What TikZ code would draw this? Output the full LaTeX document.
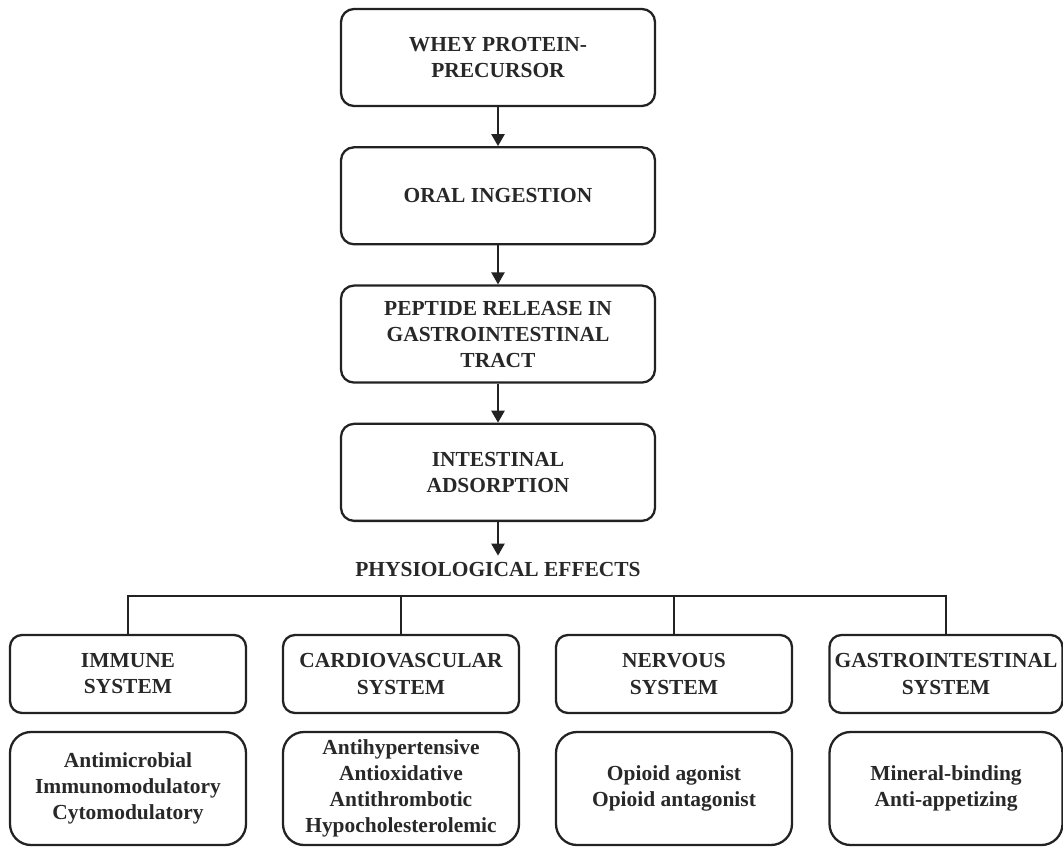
\documentclass[tikz,border=0pt]{standalone}
\usepackage{fontspec}
\setmainfont{Liberation Serif}
\usepackage{xcolor}
\definecolor{grisLinea}{RGB}{34,34,34}
\definecolor{grisTexto}{RGB}{40,40,40}
\usepackage{tikz}
\usetikzlibrary{arrows.meta, positioning}

\begin{document}
\begin{tikzpicture}[
  caja/.style={draw=grisLinea, line width=1.3pt, rounded corners=0.26cm, align=center,
    minimum width=6.28cm, minimum height=1.94cm, inner sep=2pt, text=grisTexto,
    font=\fontsize{12.2}{14.8}\selectfont\bfseries},
  sistema/.style={caja, minimum width=4.72cm, minimum height=1.56cm, rounded corners=0.24cm},
  efecto/.style={caja, minimum width=4.72cm, minimum height=2.26cm, rounded corners=0.42cm},
  flecha/.style={draw=grisLinea, line width=1.3pt, -{Triangle[width=0.26cm,length=0.24cm]}},
  linea/.style={draw=grisLinea, line width=1.3pt},
  node distance=0.78cm
]
  % Marco
  \path[fill=white, use as bounding box] (0,0) rectangle (21.26,-16.94);
  % Cadena central
  \node[caja] (whey) at (9.96,-1.15) {WHEY PROTEIN-\\PRECURSOR};
  \node[caja, below=of whey] (oral) {ORAL INGESTION};
  \node[caja, below=of oral] (pept) {PEPTIDE RELEASE IN\\GASTROINTESTINAL\\TRACT};
  \node[caja, below=of pept] (intest) {INTESTINAL\\ADSORPTION};
  \node[text=grisTexto, font=\fontsize{12.2}{14.8}\selectfont\bfseries, inner sep=0pt,
    minimum height=0.56cm] (efectos) at (9.96,-11.40) {PHYSIOLOGICAL EFFECTS};
  \foreach \a/\b in {whey/oral, oral/pept, pept/intest, intest/efectos}
    \draw[flecha] (\a) -- (\b);
  % Sistemas
  \node[sistema] (inmune) at (2.56,-13.48) {IMMUNE\\SYSTEM};
  \node[sistema] (cardio) at (8.02,-13.48) {CARDIOVASCULAR\\SYSTEM};
  \node[sistema] (nervioso) at (13.48,-13.48) {NERVOUS\\SYSTEM};
  \node[sistema, minimum width=4.66cm] (gastro) at (18.92,-13.48) {GASTROINTESTINAL\\SYSTEM};
  % Barra
  \coordinate (barra) at (9.96,-11.92);
  \draw[linea] (inmune.north) -- (inmune.north |- barra) -- (gastro.north |- barra) -- (gastro.north);
  \foreach \n in {cardio, nervioso}
    \draw[linea] (\n.north) -- (\n.north |- barra);
  % Efectos
  \node[efecto] (efInmune) at (2.56,-15.77) {Antimicrobial\\Immunomodulatory\\Cytomodulatory};
  \node[efecto] (efCardio) at (8.02,-15.77) {Antihypertensive\\Antioxidative\\Antithrombotic\\Hypocholesterolemic};
  \node[efecto] (efNervioso) at (13.48,-15.77) {Opioid agonist\\Opioid antagonist};
  \node[efecto, minimum width=4.66cm] (efGastro) at (18.92,-15.77) {Mineral-binding\\Anti-appetizing};
\end{tikzpicture}
\end{document}
